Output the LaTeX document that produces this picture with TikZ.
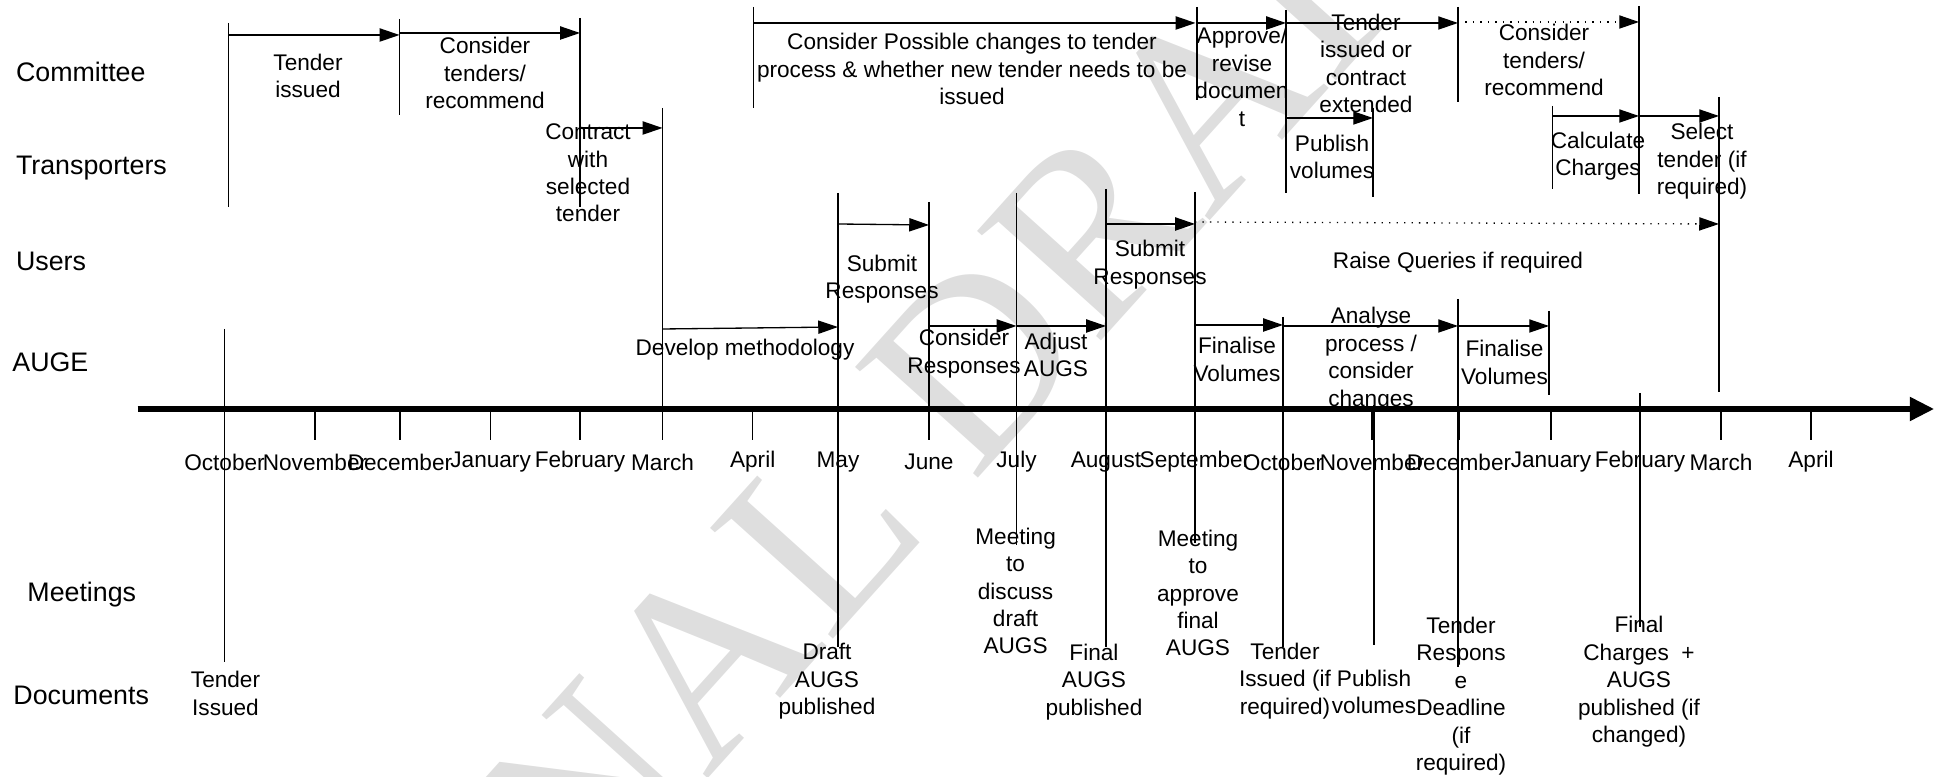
\documentclass[tikz,border=0pt]{standalone}
\usepackage{fontspec}
\setmainfont{Liberation Sans}
\newfontfamily\wmfont{Liberation Serif}
\usetikzlibrary{arrows.meta}

\begin{document}
\begin{tikzpicture}[x=0.016cm,y=-0.016cm,
  txt/.style={align=center,inner sep=0pt,font=\fontsize{10.3}{12.5}\selectfont},
  rowlabel/.style={anchor=west,inner sep=0pt,font=\fontsize{12.2}{14}\selectfont},
  bar/.style={line width=0.6pt},
  stage/.style={line width=0.6pt,-{Triangle[length=9pt,width=6pt]}},
  maybe/.style={stage,dash pattern=on 0.6pt off 2.8pt}]
\useasboundingbox (0,0) rectangle (1944,777);

% watermark
\node[rotate=48,anchor=base west,inner sep=0pt,text=black!13,
  font=\wmfont\fontsize{115}{115}\selectfont] (wm) at (434,1083) {FINAL DRAFT};

% time axis
\coordinate (ax0) at (137.5,409);
\coordinate (ax1) at (1934,409);
\draw[line width=2.3pt,-{Triangle[length=11pt,width=10.5pt]}] (ax0) -- (ax1);
\foreach \m/\x [count=\i] in {October/224.5,November/315,December/400,January/490.6,February/580,
  March/662.5,April/752.7,May/838,June/929,July/1016.5,August/1106,September/1195,
  October/1283,November/1372,December/1459,January/1551,February/1640,March/1721,April/1811}
{ \draw[bar] (\x,409) -- (\x,440);
  \node[txt] (mon\i) at (\x,462) {\m};}

% rows
\node[rowlabel] (committee) at (15.6,72) {Committee};
\node[rowlabel] (transporters) at (15.6,168) {Transporters};
\node[rowlabel] (users) at (15.6,261) {Users};
\node[rowlabel] (auge) at (12,362) {AUGE};
\node[rowlabel] (meetings) at (27,595) {Meetings};
\node[rowlabel] (documents) at (13,695) {Documents};

% milestone bars
\foreach \x/\a/\b in {228.6/23/207, 399.5/19/115, 580/18/207, 662.5/108/409, 753.6/7/108,
  1197/7/100, 1286/10/193, 1373/108/197, 1458/7/102, 1639/6/194, 1552.6/106/189, 1719/97/392,
  838/193/647, 929/202/409, 1016.5/193/545, 1106/189/647, 1195/192/543,
  224.5/329/662, 1283/317/647, 1374/405/645, 1458/299/667, 1549/311/395, 1640/393/627}
  \draw[bar] (\x,\a) -- (\x,\b);

% arrow ends
\foreach \n/\x/\y in {c1/228.6/35, c2/399.5/35, c3/399.5/33, c4/580/33, c5/753.6/23, c6/1195.5/23,
  c7/1197/23, c8/1286/23, c9/1458/23, c10/1458/22, c11/1639/22,
  t1/580/128, t2/662.5/128, t3/1286/118, t4/1373/118, t5/1552.6/116, t6/1639/116, t7/1719/116,
  u1/838/224, u2/929/225, u3/1106/224, u4/1195/224, u5/1195/222, u6/1719/224,
  a1/662.5/329, a2/838/327, a3/929/326, a4/1016.5/326, a5/1106/326, a6/1195/325, a7/1283/325,
  a8/1283/326, a9/1458/326, a10/1549/326}
  \coordinate (\n) at (\x,\y);

\foreach \a/\b in {c1/c2, c3/c4, c5/c6, c7/c8, c8/c9, t1/t2, t3/t4, t5/t6, t6/t7,
  u1/u2, u3/u4, a1/a2, a3/a4, a4/a5, a6/a7, a8/a9, a9/a10}
  \draw[stage] (\a) -- (\b);
\draw[maybe] (c10) -- (c11);
\draw[maybe] (u5) -- (u6);

% committee / transporters
\node[txt] (tenderIssued) at (308,76) {Tender\\issued};
\node[txt] (considerA) at (485,73) {Consider\\tenders/\\recommend};
\node[txt] (contract) at (588,173) {Contract\\with\\selected\\tender};
\node[txt] (changes) at (972,69) {Consider Possible changes to tender\\process \& whether new tender needs to be\\issued};
\node[txt] (approve) at (1242,77) {Approve/\\revise\\documen\\t};
\node[txt] (extended) at (1366,63.5) {Tender\\issued or\\contract\\extended};
\node[txt] (publishA) at (1332,157) {Publish\\volumes};
\node[txt] (considerB) at (1544,60) {Consider\\tenders/\\recommend};
\node[txt] (calculate) at (1598,156) {Calculate\\Charges};
\node[txt] (select) at (1702,161.5) {Select\\tender (if\\required)};

% users
\node[txt] (submitA) at (882,279) {Submit\\Responses};
\node[txt] (submitB) at (1150,264.5) {Submit\\Responses};
\node[txt] (queries) at (1458,263) {Raise Queries if required};

% auge
\node[txt] (develop) at (745,350) {Develop methodology};
\node[txt] (considerR) at (964,353.5) {Consider\\Responses};
\node[txt] (adjust) at (1056,355) {Adjust\\AUGS};
\node[txt] (finaliseA) at (1237,359.5) {Finalise\\Volumes};
\node[txt] (analyse) at (1371,359) {Analyse\\process /\\consider\\changes};
\node[txt] (finaliseB) at (1504.5,362.5) {Finalise\\Volumes};

% meetings
\node[txt] (meetDraft) at (1015.6,591) {Meeting\\to\\discuss\\draft\\AUGS};
\node[txt] (meetFinal) at (1198,593) {Meeting\\to\\approve\\final\\AUGS};

% documents
\node[txt] (docTender) at (225.5,693.5) {Tender\\Issued};
\node[txt] (docDraft) at (827,681.5) {Draft\\AUGS\\published};
\node[txt] (docFinal) at (1094,682) {Final\\AUGS\\published};
\node[txt] (docTenderB) at (1285,681) {Tender\\Issued (if\\required)};
\node[txt] (docVolumes) at (1374,692) {Publish\\volumes};
\node[txt] (docDeadline) at (1461,696) {Tender\\Respons\\e\\Deadline\\(if\\required)};
\node[txt] (docCharges) at (1639,682) {Final\\Charges~~+\\AUGS\\published (if\\changed)};
\end{tikzpicture}
\end{document}
